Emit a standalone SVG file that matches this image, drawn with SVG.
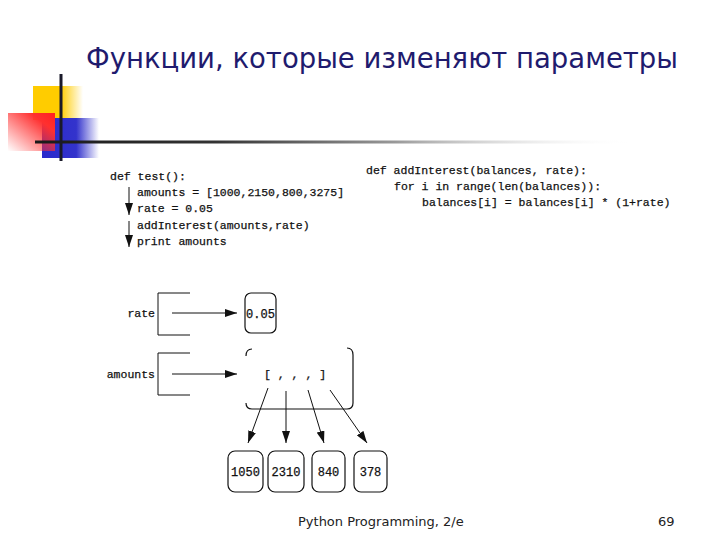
<svg xmlns="http://www.w3.org/2000/svg" width="720" height="540" viewBox="0 0 720 540">
<defs>
<linearGradient id="gY" x1="0" y1="0" x2="1" y2="0"><stop offset="0" stop-color="#FFCC00"/><stop offset="0.55" stop-color="#FFCC00"/><stop offset="1" stop-color="#FFCC00" stop-opacity="0"/></linearGradient>
<linearGradient id="gR" x1="1" y1="0" x2="0" y2="1"><stop offset="0" stop-color="#FF2020"/><stop offset="0.25" stop-color="#FF3030"/><stop offset="1" stop-color="#FF3030" stop-opacity="0"/></linearGradient>
<linearGradient id="gB" x1="0" y1="0" x2="1" y2="0"><stop offset="0" stop-color="#2A2ACC"/><stop offset="0.6" stop-color="#3333CC"/><stop offset="1" stop-color="#3333CC" stop-opacity="0"/></linearGradient>
<linearGradient id="gL" x1="0" y1="0" x2="1" y2="0"><stop offset="0" stop-color="#1a1a1a"/><stop offset="0.3" stop-color="#333"/><stop offset="0.6" stop-color="#999"/><stop offset="1" stop-color="#fff" stop-opacity="0"/></linearGradient>
<marker id="ah" viewBox="0 0 12 8" refX="12" refY="4" markerWidth="12" markerHeight="8" markerUnits="userSpaceOnUse" orient="auto"><path d="M0,0 L12,4 L0,8 Z" fill="#111"/></marker>
</defs>
<style>
.code{font-family:"Liberation Mono","DejaVu Sans Mono",monospace;font-size:11.5px;fill:#111;stroke:#111;stroke-width:0.25}
.val{font-family:"Liberation Mono","DejaVu Sans Mono",monospace;font-size:12px;fill:#111;stroke:#111;stroke-width:0.25;text-anchor:middle}
.box{fill:none;stroke:#111;stroke-width:1.2}
.ln{fill:none;stroke:#111;stroke-width:1}
.title{font-family:"DejaVu Sans","Noto Sans",sans-serif;font-size:29px;fill:#1F1B6E}
.foot{font-family:"DejaVu Sans","Liberation Sans",sans-serif;font-size:13px;fill:#222}
</style>
<rect width="720" height="540" fill="#fff"/>
<g id="decor">
<rect x="33" y="86" width="50" height="34" fill="url(#gY)"/>
<rect x="42" y="118" width="57" height="40" fill="url(#gB)"/>
<rect x="8" y="113" width="47" height="38" fill="url(#gR)"/>
<rect x="35" y="140.5" width="600" height="3" fill="url(#gL)"/>
<rect x="59.5" y="74" width="3" height="87" fill="#1a1a2a"/>
</g>
<text class="title" x="86" y="68" textLength="592" lengthAdjust="spacingAndGlyphs">Функции, которые изменяют параметры</text>
<g id="code-test">
<text class="code" x="110" y="180">def test():</text>
<text class="code" x="137" y="196">amounts = [1000,2150,800,3275]</text>
<text class="code" x="137" y="212">rate = 0.05</text>
<text class="code" x="137" y="229">addInterest(amounts,rate)</text>
<text class="code" x="137" y="245">print amounts</text>
</g>
<g id="code-addInterest">
<text class="code" x="366" y="174">def addInterest(balances, rate):</text>
<text class="code" x="394" y="190">for i in range(len(balances)):</text>
<text class="code" x="422" y="206">balances[i] = balances[i] * (1+rate)</text>
</g>
<g id="node-rate">
<text class="code" x="155" y="317" text-anchor="end">rate</text>
<path class="ln" d="M190,293 H158 V335 H190"/>
</g>
<g id="node-amounts">
<text class="code" x="155" y="378" text-anchor="end">amounts</text>
<path class="ln" d="M190,353 H158 V395 H190"/>
</g>
<g id="node-005">
<rect class="box" x="245" y="293" width="31" height="40" rx="6"/>
<text class="val" x="260.5" y="318">0.05</text>
</g>
<g id="node-list">
<path class="box" d="M246,356 Q246,349 252,349"/>
<path class="box" d="M347,348 Q353,348 353,355 V403 Q353,409 347,409 H252 Q246,409 246,403"/>
<text class="code" x="264" y="378">[ , , , ]</text>
</g>
<g id="node-1050"><rect class="box" x="228" y="451" width="35" height="41" rx="7"/><text class="val" x="245.5" y="476">1050</text></g>
<g id="node-2310"><rect class="box" x="268" y="451" width="36" height="41" rx="7"/><text class="val" x="286" y="476">2310</text></g>
<g id="node-840"><rect class="box" x="312" y="451" width="33" height="41" rx="7"/><text class="val" x="328.5" y="476">840</text></g>
<g id="node-378"><rect class="box" x="354" y="451" width="33" height="41" rx="7"/><text class="val" x="370.5" y="476">378</text></g>
<g id="connectors">
<line class="ln" x1="129" y1="187" x2="129" y2="215" marker-end="url(#ah)"/>
<line class="ln" x1="129" y1="221" x2="129" y2="247" marker-end="url(#ah)"/>
<line class="ln" x1="172" y1="313" x2="237" y2="313" marker-end="url(#ah)"/>
<line class="ln" x1="172" y1="374" x2="237" y2="374" marker-end="url(#ah)"/>
<line class="ln" x1="268" y1="388" x2="248" y2="443" marker-end="url(#ah)"/>
<line class="ln" x1="286" y1="391" x2="286" y2="443" marker-end="url(#ah)"/>
<line class="ln" x1="308" y1="390" x2="324" y2="443" marker-end="url(#ah)"/>
<line class="ln" x1="330" y1="390" x2="367" y2="443" marker-end="url(#ah)"/>
</g>
<text class="foot" x="298" y="526">Python Programming, 2/e</text>
<text class="foot" x="658" y="526">69</text>
</svg>
